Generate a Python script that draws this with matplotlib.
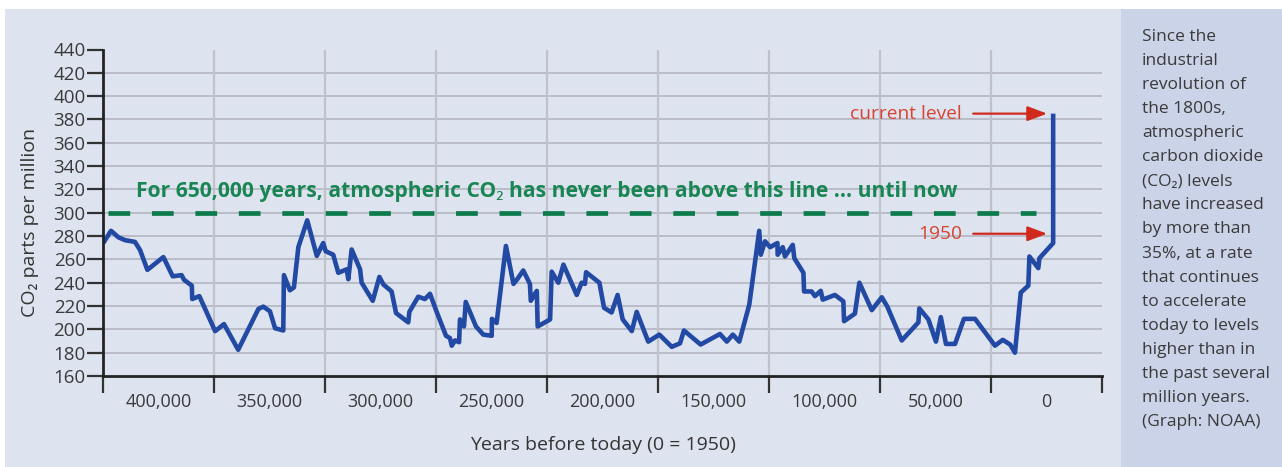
import matplotlib
matplotlib.use("Agg")
import matplotlib.pyplot as plt
from matplotlib.patches import Rectangle

plt.rcParams['font.family'] = ['Open Sans', 'Noto Sans', 'DejaVu Sans']

# CO2 record (years before 1950, ppm)
years_bp = [
    424900, 421400, 418100, 415100, 410600, 408300, 405000, 397800, 393600, 389600,
    388500, 385000, 384800, 381600, 374500, 370500, 364100, 355000, 352800, 349800,
    347500, 343800, 343500, 340800, 339000, 337000, 333000, 328700, 325800, 324700,
    321300, 319000, 315200, 314500, 313000, 309200, 308500, 303500, 300500, 298700,
    295000, 293000, 287500, 287000, 283000, 280000, 277700, 274700, 270500, 268700,
    267900, 266400, 264600, 264200, 262400, 261600, 257000, 253700, 249900, 249800,
    247700, 243500, 240100, 238400, 235700, 232700, 232300, 229600, 229200, 223600,
    222900, 219900, 217600, 211600, 209400, 207900, 207400, 201400, 199300, 195900,
    193200, 190900, 186800, 184600, 179400, 174400, 168800, 165100, 163300, 155800,
    147100, 144000, 141300, 138400, 133900, 129400, 128700, 126800, 124500, 121200,
    121100, 118800, 117800, 114300, 113600, 109500, 109200, 105800, 104300, 101700,
    100800, 95300, 91500, 91200, 86300, 84300, 78700, 74200, 71700, 65200,
    57700, 57300, 53200, 49800, 47600, 45300, 41200, 37200, 32200, 23200,
    19700, 16400, 14200, 11600, 8200, 7700, 3700, 3200, -3000, -3000,
]
co2_ppm = [
    274, 284.5, 279, 276.5, 275, 268, 251, 262, 245.5, 246.5,
    242.5, 237.5, 226, 228.5, 198.5, 204.5, 182.5, 217.5, 219.5, 215.5,
    201, 199, 246.5, 233.5, 236, 270.5, 293.5, 263, 274, 267,
    264, 248.5, 251.5, 243, 268.5, 251.5, 240, 224.5, 245, 238.5,
    232.5, 214, 206, 215, 228, 226, 230.5, 215, 194.5, 192.5,
    186, 190.5, 189, 208.5, 202.5, 223.5, 202.5, 195.5, 194.5, 209,
    205.5, 271.5, 239, 243, 250.5, 239, 224.5, 233, 202.5, 208.5,
    249.5, 240, 255.5, 229.5, 240, 239, 249, 240, 218.5, 214.5,
    229.5, 208.5, 198.5, 215, 189.5, 195.5, 185, 188, 199, 187,
    196, 189.5, 195.5, 189.5, 221, 284.5, 264, 275.5, 270.5, 274,
    264, 270.5, 262.5, 272.5, 261, 248.5, 232.5, 232.5, 228.5, 233,
    225.5, 229.5, 224, 207, 213.5, 240, 216.5, 227.5, 219.5, 190.5,
    206, 218, 208.5, 189.5, 210.5, 187.5, 187.5, 209, 209, 186,
    191, 187, 180, 231.5, 237.5, 262.5, 252.5, 261, 274, 385,
]

x_labels = [400000, 350000, 300000, 250000, 200000, 150000, 100000, 50000, 0]
x_bounds = [425000, 375000, 325000, 275000, 225000, 175000, 125000, 75000, 25000, -25000]
y_ticks = list(range(160, 441, 20))

threshold = 300
threshold_text = "For 650,000 years, atmospheric CO\u2082 has never been above this line ... until now"
current_level = 385
level_1950 = 282

side_lines = [
    "Since the", "industrial", "revolution of", "the 1800s,", "atmospheric",
    "carbon dioxide", "(CO\u2082) levels", "have increased", "by more than",
    "35%, at a rate", "that continues", "to accelerate", "today to levels",
    "higher than in", "the past several", "million years.", "(Graph: NOAA)",
]

BG = '#dee3f0'
PANEL = '#cbd3e8'
BLUE = '#2249a3'
GREEN = '#0b7b4b'
RED = '#d02a1e'
TXT = '#3a3a3a'

W, H = 1282, 467
fig = plt.figure(figsize=(W / 100, H / 100), dpi=100)
fig.patch.set_facecolor('white')
fig.patches.append(Rectangle((5 / W, 0), 1, 1 - 9 / H, transform=fig.transFigure,
                             facecolor=BG, edgecolor='none', zorder=-10))
fig.patches.append(Rectangle((1121 / W, 0), 1, 1 - 9 / H, transform=fig.transFigure,
                             facecolor=PANEL, edgecolor='none', zorder=-9))

ax = fig.add_axes([103 / W, (H - 376) / H, (1102 - 103) / W, (376 - 49.5) / H])
ax.set_facecolor('none')
ax.set_xlim(x_bounds[0], x_bounds[-1])
ax.set_ylim(y_ticks[0], y_ticks[-1])

# grid
for yv in y_ticks[1:-1]:
    ax.axhline(yv, color='#b3b6bf', lw=1.2, zorder=1)
for xv in x_bounds[1:-1]:
    ax.axvline(xv, color='#c0c2ca', lw=1.6, zorder=1)

# data
ax.plot(years_bp, co2_ppm, color=BLUE, lw=3.3, solid_joinstyle='round',
        solid_capstyle='butt', zorder=4)

# 300 ppm threshold
ax.plot([422700, 4700], [threshold, threshold], color=GREEN, lw=3.4,
        dashes=(4.6, 4.6), dash_capstyle='butt', zorder=3)
ax.text(225200, 313.5, threshold_text, color='#188553', fontsize=15.1,
        fontweight='bold', ha='center', va='baseline', zorder=5)

# red arrows
for val, label in [(current_level, 'current level'), (level_1950, '1950')]:
    ax.annotate('', xy=(-300, val), xytext=(33000, val),
                arrowprops=dict(arrowstyle='-|>,head_length=1.2,head_width=0.45',
                                color=RED, lw=1.6, shrinkA=0, shrinkB=0), zorder=5)
    ax.text(38000, val, label, color='#d8432f', fontsize=13.8, ha='right',
            va='center', zorder=5)

# axes styling
for side in ['top', 'right']:
    ax.spines[side].set_visible(False)
for side in ['left', 'bottom']:
    ax.spines[side].set_linewidth(2)
    ax.spines[side].set_color('#222222')
    ax.spines[side].set_zorder(6)

ax.set_yticks(y_ticks)
ax.tick_params(axis='y', length=11.5, width=1.6, color='#333333', pad=1,
               labelsize=13.5, labelcolor=TXT)
ax.set_xticks(x_bounds)
ax.set_xticklabels([])
ax.set_xticks(x_labels, minor=True)
ax.set_xticklabels([f'{v:,}' for v in x_labels], minor=True)
ax.tick_params(axis='x', which='major', length=12, width=1.6, color='#333333')
ax.tick_params(axis='x', which='minor', length=0, pad=12.5, labelsize=13,
               labelcolor=TXT)

ax.set_ylabel('CO\u2082 parts per million', fontsize=14, color='#333333')
ax.yaxis.set_label_coords(-0.064, 0.469)
fig.text(602.5 / W, 1 - 445 / H, 'Years before today (0 = 1950)', fontsize=14,
         color='#333333', ha='center', va='center')

# side note
for i, line in enumerate(side_lines):
    fig.text(1142 / W, 1 - (41 + i * 24.06) / H, line, fontsize=12.5,
             color=TXT, ha='left', va='baseline')

fig.savefig('out.png', dpi=100)
